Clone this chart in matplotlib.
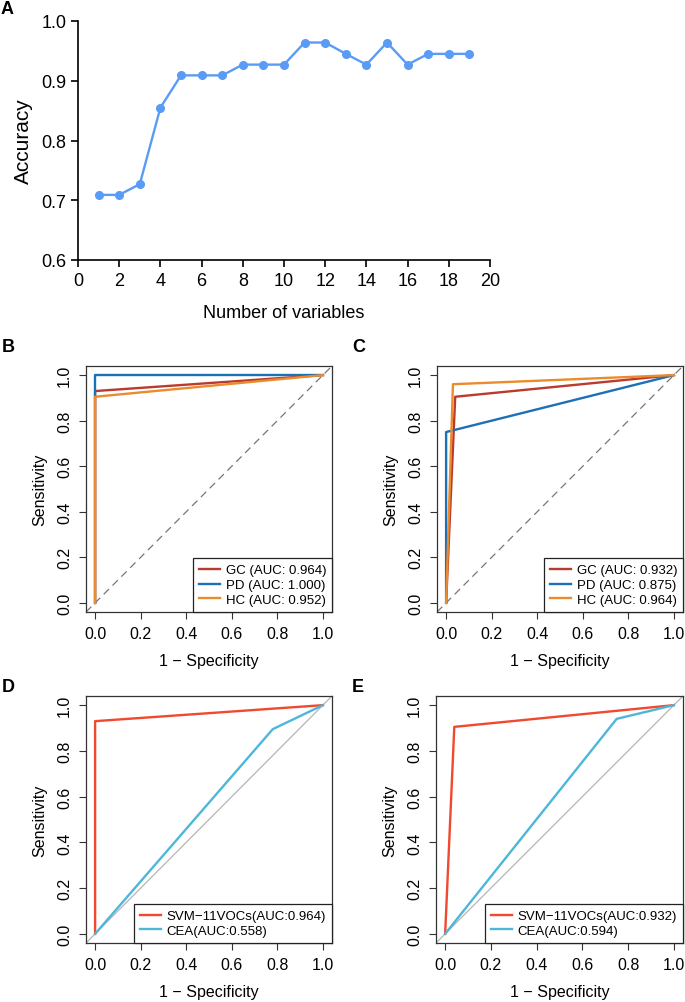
import numpy as np
import matplotlib.pyplot as plt

plt.rcParams['font.family'] = ['Liberation Sans', 'DejaVu Sans']

# Panel A: accuracy vs number of variables
n_vars = list(range(1, 20))
accuracy = [0.709, 0.709, 0.727, 0.855, 0.909, 0.909, 0.909, 0.927, 0.927, 0.927,
            0.964, 0.964, 0.945, 0.927, 0.964, 0.927, 0.945, 0.945, 0.945]

# Panel B: ROC (1 - specificity, sensitivity)
b_labels = ['GC (AUC: 0.964)', 'PD (AUC: 1.000)', 'HC (AUC: 0.952)']
b_fpr = [[0, 0, 1], [0, 0, 1], [0, 0, 1]]
b_tpr = [[0, 0.93, 1], [0, 1.0, 1], [0, 0.905, 1]]

# Panel C
c_labels = ['GC (AUC: 0.932)', 'PD (AUC: 0.875)', 'HC (AUC: 0.964)']
c_fpr = [[0, 0.04, 1], [0, 0, 1], [0, 0.03, 1]]
c_tpr = [[0, 0.905, 1], [0, 0.75, 1], [0, 0.96, 1]]

# Panel D
d_labels = ['SVM\u221211VOCs(AUC:0.964)', 'CEA(AUC:0.558)']
d_fpr = [[0, 0, 1], [0, 0.78, 1]]
d_tpr = [[0, 0.93, 1], [0, 0.895, 1]]

# Panel E
e_labels = ['SVM\u221211VOCs(AUC:0.932)', 'CEA(AUC:0.594)']
e_fpr = [[0, 0.04, 1], [0, 0.75, 1]]
e_tpr = [[0, 0.905, 1], [0, 0.94, 1]]

col3 = ['#BA3B2E', '#1B70B6', '#EA8B2D']
col2 = ['#F0492F', '#4DB7DA']

W, H = 685, 1003
fig = plt.figure(figsize=(W / 100, H / 100), dpi=100)


def box(x0, y0, x1, y1):
    return [x0 / W, 1 - y1 / H, (x1 - x0) / W, (y1 - y0) / H]


# ---- Panel A ----
axA = fig.add_axes(box(78, 22, 490, 261))
axA.plot(n_vars, accuracy, color='#5A9CF5', lw=1.7, marker='o', ms=5.5, clip_on=False)
axA.set_xlim(0, 20)
axA.set_ylim(0.6, 1.0)
axA.set_xticks(range(0, 21, 2))
axA.set_yticks([0.6, 0.7, 0.8, 0.9, 1.0])
axA.set_yticklabels(['0.6', '0.7', '0.8', '0.9', '1.0'])
axA.spines['top'].set_visible(False)
axA.spines['right'].set_visible(False)
for s in ['left', 'bottom']:
    axA.spines[s].set_linewidth(1.2)
axA.tick_params(labelsize=13, width=1.2, length=5)
axA.set_xlabel('Number of variables', fontsize=13, labelpad=11)
axA.set_ylabel('Accuracy', fontsize=15, labelpad=6)
fig.text(1 / W, 1 - 9 / H, 'A', fontsize=13, fontweight='bold', va='center', ha='left')


def roc(ax, fprs, tprs, labels, colors, dashed):
    if dashed:
        ax.plot([-0.04, 1.04], [-0.04, 1.04], color='#777777', lw=0.9, ls=(0, (6, 4)))
    else:
        ax.plot([-0.04, 1.04], [-0.04, 1.04], color='#B5B5B5', lw=0.9)
    for f, t, lab, c in zip(fprs, tprs, labels, colors):
        ax.plot(f, t, color=c, lw=1.7, label=lab)
    ax.set_xlim(-0.04, 1.04)
    ax.set_ylim(-0.04, 1.04)
    ticks = [0, 0.2, 0.4, 0.6, 0.8, 1.0]
    ax.set_xticks(ticks)
    ax.set_yticks(ticks)
    ax.set_xticklabels(['0.0', '0.2', '0.4', '0.6', '0.8', '1.0'])
    ax.set_yticklabels(['0.0', '0.2', '0.4', '0.6', '0.8', '1.0'], rotation=90, va='center')
    for s in ax.spines.values():
        s.set_color('#333333')
        s.set_linewidth(0.9)
    ax.tick_params(labelsize=11.5, length=5, width=0.8, color='#333333', pad=5)
    ax.set_xlabel('1 \u2212 Specificity', fontsize=11.5, labelpad=9)
    ax.set_ylabel('Sensitivity', fontsize=11.5, labelpad=7)
    leg = ax.legend(loc='lower right', borderaxespad=0, fancybox=False, fontsize=9.5,
                    handlelength=1.6, handletextpad=0.45, labelspacing=0.2,
                    borderpad=0.45, framealpha=1)
    leg.get_frame().set_edgecolor('#222222')
    leg.get_frame().set_linewidth(0.9)


axB = fig.add_axes(box(86, 367, 332, 613))
roc(axB, b_fpr, b_tpr, b_labels, col3, True)
fig.text(2 / W, 1 - 348 / H, 'B', fontsize=13, fontweight='bold', va='center')

axC = fig.add_axes(box(437, 367, 683, 613))
roc(axC, c_fpr, c_tpr, c_labels, col3, True)
fig.text(352 / W, 1 - 348 / H, 'C', fontsize=13, fontweight='bold', va='center')

axD = fig.add_axes(box(86, 697, 332, 944))
roc(axD, d_fpr, d_tpr, d_labels, col2, False)
fig.text(2 / W, 1 - 687 / H, 'D', fontsize=13, fontweight='bold', va='center')

axE = fig.add_axes(box(436, 697, 683, 944))
roc(axE, e_fpr, e_tpr, e_labels, col2, False)
fig.text(352 / W, 1 - 687 / H, 'E', fontsize=13, fontweight='bold', va='center')

fig.savefig('out.png', dpi=100)
